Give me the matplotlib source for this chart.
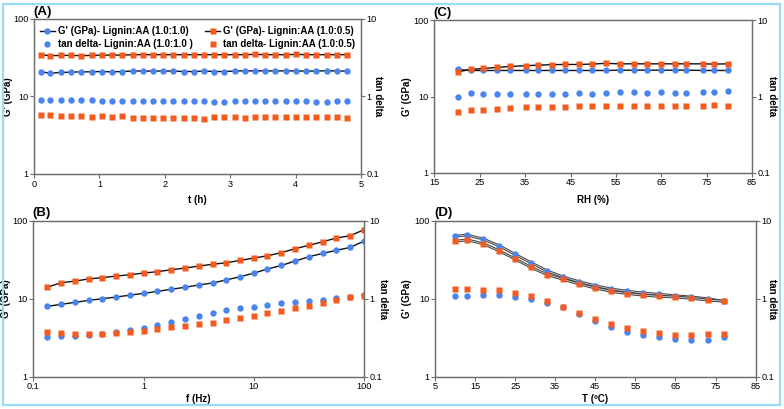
import matplotlib.pyplot as plt
from matplotlib.lines import Line2D
from matplotlib.patches import Rectangle

plt.rcParams['font.family'] = ['Liberation Sans', 'DejaVu Sans']

blue = '#4a85ee'
orange = '#f55b1f'

# (A) time sweep
t_h = [0.10, 0.25, 0.41, 0.57, 0.72, 0.88, 1.04, 1.19, 1.35, 1.51, 1.66, 1.82, 1.97, 2.13, 2.29, 2.44,
       2.60, 2.76, 2.91, 3.07, 3.23, 3.38, 3.54, 3.69, 3.85, 4.01, 4.16, 4.32, 4.48, 4.63, 4.79]
a_g_11 = [20.8, 20.0, 20.4, 20.6, 20.8, 20.8, 21.0, 20.8, 21.0, 21.3, 21.3, 21.3, 21.3, 21.3, 21.0, 21.0,
          21.3, 21.0, 21.0, 21.3, 21.5, 21.3, 21.5, 21.3, 21.5, 21.3, 21.3, 21.3, 21.5, 21.3, 21.3]
a_g_105 = [34.6, 33.6, 33.9, 33.9, 33.6, 33.9, 34.2, 34.2, 34.2, 34.6, 34.6, 34.6, 34.6, 34.6, 34.6, 34.6,
           34.6, 34.6, 34.6, 34.6, 34.6, 34.9, 34.6, 34.6, 34.6, 34.9, 34.6, 34.6, 34.6, 34.6, 34.6]
a_tan_11 = [0.906, 0.906, 0.906, 0.897, 0.897, 0.897, 0.870, 0.879, 0.879, 0.870, 0.870, 0.879, 0.879, 0.879,
            0.870, 0.862, 0.862, 0.853, 0.845, 0.862, 0.862, 0.862, 0.862, 0.862, 0.862, 0.862, 0.862,
            0.853, 0.853, 0.862, 0.862]
a_tan_105 = [0.585, 0.579, 0.562, 0.562, 0.567, 0.551, 0.557, 0.551, 0.557, 0.530, 0.530, 0.535, 0.535, 0.535,
             0.535, 0.535, 0.509, 0.541, 0.541, 0.546, 0.535, 0.546, 0.541, 0.551, 0.546, 0.546, 0.546,
             0.546, 0.541, 0.541, 0.535]

# (B) frequency sweep
f_hz = [0.133, 0.178, 0.237, 0.316, 0.422, 0.562, 0.750, 1.0, 1.33, 1.78, 2.37, 3.16, 4.22, 5.62, 7.50,
        10.0, 13.3, 17.8, 23.7, 31.6, 42.2, 56.2, 75.0, 100.0]
b_g_11 = [7.97, 8.46, 8.97, 9.52, 10.0, 10.5, 11.1, 11.7, 12.4, 13.2, 14.0, 15.0, 15.9, 17.4, 19.1, 21.3,
          24.0, 26.7, 30.4, 34.5, 38.1, 41.7, 45.5, 54.8]
b_g_105 = [14.0, 16.0, 16.8, 17.9, 18.6, 19.5, 20.3, 21.3, 22.2, 23.5, 24.7, 26.2, 27.6, 28.9, 31.0, 33.2,
           35.5, 38.9, 43.8, 48.3, 53.8, 60.0, 64.2, 76.7]
b_tan_11 = [0.326, 0.332, 0.336, 0.345, 0.356, 0.370, 0.393, 0.425, 0.460, 0.507, 0.554, 0.600, 0.649,
            0.708, 0.759, 0.789, 0.838, 0.880, 0.916, 0.943, 0.971, 1.01, 1.04, 1.10]
b_tan_105 = [0.377, 0.359, 0.352, 0.352, 0.356, 0.363, 0.377, 0.389, 0.409, 0.429, 0.451, 0.478, 0.492,
             0.527, 0.565, 0.600, 0.649, 0.702, 0.751, 0.813, 0.889, 0.961, 1.06, 1.08]

# (C) humidity sweep
rh = [20.1, 23.0, 25.8, 28.7, 31.7, 35.1, 37.9, 40.8, 43.7, 46.9, 49.8, 52.7, 55.8, 58.9, 61.8, 64.9,
      68.0, 70.5, 74.2, 76.7, 79.6]
c_g_11 = [22.7, 22.0, 22.0, 22.0, 22.0, 22.0, 22.0, 22.0, 22.0, 22.0, 22.0, 22.0, 22.2, 22.2, 22.2, 22.2,
          22.2, 22.2, 22.0, 22.0, 22.0]
c_g_105 = [21.1, 22.7, 23.4, 24.1, 24.9, 25.4, 25.9, 26.2, 26.4, 26.4, 26.7, 27.3, 26.9, 26.9, 26.9, 26.9,
           26.9, 26.9, 26.9, 26.7, 26.9]
c_tan_11 = [0.99, 1.11, 1.09, 1.09, 1.09, 1.09, 1.09, 1.09, 1.09, 1.11, 1.09, 1.11, 1.13, 1.13, 1.11, 1.13,
            1.11, 1.11, 1.13, 1.15, 1.17]
c_tan_105 = [0.631, 0.658, 0.671, 0.678, 0.699, 0.721, 0.721, 0.736, 0.736, 0.751, 0.759, 0.751, 0.751,
             0.751, 0.759, 0.759, 0.759, 0.759, 0.759, 0.766, 0.759]

# (D) temperature sweep
temp = [10, 13, 17, 21, 25, 29, 33, 37, 41, 45, 49, 53, 57, 61, 65, 69, 73, 77]
d_g_11 = [63.5, 65.5, 58.2, 47.8, 37.0, 28.9, 22.7, 19.0, 16.5, 14.7, 13.3, 12.5, 11.8, 11.4, 10.9, 10.5,
          10.0, 9.25]
d_g_105 = [54.3, 57.0, 50.7, 41.2, 32.3, 25.2, 20.3, 17.7, 15.4, 13.7, 12.4, 11.6, 11.1, 10.7, 10.5, 10.1,
           9.6, 9.3]
d_tan_11 = [1.08, 1.08, 1.10, 1.10, 1.05, 0.98, 0.89, 0.774, 0.636, 0.512, 0.429, 0.370, 0.339, 0.319,
            0.304, 0.298, 0.298, 0.319]
d_tan_105 = [1.32, 1.32, 1.30, 1.28, 1.20, 1.08, 0.933, 0.782, 0.649, 0.543, 0.469, 0.421, 0.381, 0.366,
             0.345, 0.345, 0.352, 0.349]

fig = plt.figure(figsize=(7.84, 4.09), dpi=100)
fig.patches.append(Rectangle((2.5 / 784, 4.5 / 409), 777 / 784, 401 / 409, transform=fig.transFigure,
                             fill=False, edgecolor='#96dcf4', linewidth=1.6))

spine_c = '#6e6e6e'
tick_fs = 6.6
lab_fs = 7.0
ms = 4.6


def panel(rect, x, g11, g105, t11, t105, letter, xlabel, xlim, xticks, lab_x, xlab_y,
          xlog=False, d_style=False):
    ax = fig.add_axes(rect)
    if d_style:
        for g in (g11, g105):
            ax.plot(x, g, color='#3a3a3a', lw=2.0, zorder=2)
            ax.plot(x, g, color='#c8c8c8', lw=0.7, zorder=2)
        ax.plot(x, g11, 'o', color=blue, ms=ms, mec='none', zorder=3)
        ax.plot(x, g105, 's', color=orange, ms=ms, mec='none', zorder=3)
    else:
        ax.plot(x, g11, '-o', color='#111111', mfc=blue, mec='none', ms=ms, lw=1.0)
        ax.plot(x, g105, '-s', color='#111111', mfc=orange, mec='none', ms=ms, lw=1.0)
    ax.set_yscale('log')
    ax.set_ylim(1, 100)
    ax.set_yticks([1, 10, 100])
    ax.set_yticklabels(['1', '10', '100'])
    if xlog:
        ax.set_xscale('log')
    ax.set_xlim(*xlim)
    ax.set_xticks(xticks)
    ax.set_xticklabels([('%g' % v) for v in xticks])
    ax.minorticks_off()
    ax.set_xlabel(xlabel, fontsize=lab_fs, fontweight='bold')
    ax.xaxis.set_label_coords(0.5, xlab_y)
    ax.set_ylabel("G' (GPa)", fontsize=lab_fs, fontweight='bold', va='center')
    ax.yaxis.set_label_coords(lab_x[0], 0.5)
    ax.text(-0.003, 1.008, letter, transform=ax.transAxes, fontsize=9.5, fontweight='bold',
            va='bottom', ha='left')

    ax2 = ax.twinx()
    ax2.plot(x, t11, 'o', color=blue, ms=ms, mec='none')
    ax2.plot(x, t105, 's', color=orange, ms=ms, mec='none')
    ax2.set_yscale('log')
    ax2.set_ylim(0.1, 10)
    ax2.set_yticks([0.1, 1, 10])
    ax2.set_yticklabels(['0.1', '1', '10'])
    ax2.minorticks_off()
    ax2.set_ylabel('tan delta', fontsize=lab_fs, fontweight='bold', rotation=270, va='center')
    ax2.yaxis.set_label_coords(lab_x[1], 0.5)

    for a in (ax, ax2):
        for s in a.spines.values():
            s.set_color(spine_c)
            s.set_linewidth(0.9)
        a.tick_params(length=3, width=0.8, color=spine_c, labelsize=tick_fs, pad=1.0)
    return ax, ax2


axA, axA2 = panel([0.0434, 0.5746, 0.417, 0.379], t_h, a_g_11, a_g_105, a_tan_11, a_tan_105,
                  '(A)', 't (h)', (0, 5), [0, 1, 2, 3, 4, 5], (-0.08, 1.053), -0.135)
axB, axB2 = panel([0.0427, 0.079, 0.4216, 0.3814], f_hz, b_g_11, b_g_105, b_tan_11, b_tan_105,
                  '(B)', 'f (Hz)', (0.1, 100), [0.1, 1, 10, 100], (-0.082, 1.057), -0.108, xlog=True)
axC, axC2 = panel([0.5542, 0.578, 0.405, 0.372], rh, c_g_11, c_g_105, c_tan_11, c_tan_105,
                  '(C)', 'RH (%)', (15, 85), [15, 25, 35, 45, 55, 65, 75, 85], (-0.087, 1.063), -0.145)
axD, axD2 = panel([0.5548, 0.079, 0.409, 0.3814], temp, d_g_11, d_g_105, d_tan_11, d_tan_105,
                  '(D)', 'T (ºC)', (5, 85), [5, 15, 25, 35, 45, 55, 65, 75, 85], (-0.087, 1.051), -0.108,
                  d_style=True)

handles = [
    Line2D([], [], color='#111111', marker='o', mfc=blue, mec='none', ms=ms, lw=1.0),
    Line2D([], [], color=blue, marker='o', mec='none', ms=ms, lw=0),
    Line2D([], [], color='#111111', marker='s', mfc=orange, mec='none', ms=ms, lw=1.0),
    Line2D([], [], color=orange, marker='s', mec='none', ms=ms, lw=0),
]
labels = ["G' (GPa)- Lignin:AA (1.0:1.0)", 'tan delta- Lignin:AA (1.0:1.0 )',
          "G' (GPa)- Lignin:AA (1.0:0.5)", 'tan delta- Lignin:AA (1.0:0.5)']
axA2.legend(handles, labels, ncol=2, loc='upper left', bbox_to_anchor=(0.018, 0.955), frameon=False,
            prop={'size': 7.0, 'weight': 'bold'}, handlelength=1.55, handletextpad=0.3,
            columnspacing=1.3, labelspacing=0.35, borderpad=0, borderaxespad=0)

fig.savefig('out.png', dpi=100)
